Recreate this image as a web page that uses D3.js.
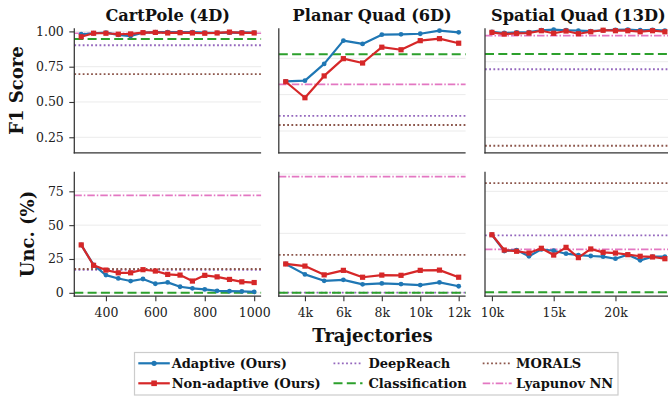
<!DOCTYPE html>
<html><head><meta charset="utf-8">
<script src="https://cdn.jsdelivr.net/npm/d3@7"></script>
<style>
body{margin:0;background:#fff}
svg{display:block}
text{font-family:"DejaVu Serif",serif}
</style>
</head><body><svg id="c" width="668" height="396"></svg>
<script>
// ---------------- DATA ----------------
const panelTitles = ["CartPole (4D)", "Planar Quad (6D)", "Spatial Quad (13D)"];
const seriesNames = ["Adaptive (Ours)", "Non-adaptive (Ours)"];
const baselineNames = ["DeepReach", "Classification", "MORALS", "Lyapunov NN"];

const cartpoleX = [300,350,400,450,500,550,600,650,700,750,800,850,900,950,1000];
const cartpoleF1Adaptive    = [0.980,0.987,0.991,0.976,0.967,0.991,0.995,0.995,0.995,0.995,0.991,0.989,0.991,0.993,0.991];
const cartpoleF1NonAdaptive = [0.962,0.987,0.987,0.980,0.982,0.991,0.993,0.989,0.991,0.989,0.987,0.989,0.995,0.989,0.989];
const cartpoleUncAdaptive    = [35.4,20.6,13.1,10.6,8.7,10.2,6.7,7.7,4.5,3.3,2.5,1.5,1.2,1.0,0.7];
const cartpoleUncNonAdaptive = [35.4,20.3,16.8,14.8,14.8,17.1,16.1,13.6,13.1,8.7,12.9,11.8,9.9,8.1,7.6];
const cartpoleBaselineF1  = [0.902, 0.946, 0.698, 0.987];
const cartpoleBaselineUnc = [17.0, 0.0, 17.6, 72.0];

const planarX = [3000,4000,5000,6000,7000,8000,9000,10000,11000,12000];
const planarF1Adaptive    = [0.673,0.677,0.769,0.897,0.879,0.930,0.932,0.935,0.952,0.943];
const planarF1NonAdaptive = [0.671,0.583,0.703,0.798,0.774,0.861,0.847,0.897,0.908,0.883];
const planarUncAdaptive    = [12.1,7.7,5.0,5.4,3.5,3.9,3.6,3.2,4.3,2.7];
const planarUncNonAdaptive = [12.1,11.2,7.5,9.4,6.5,7.4,7.3,9.4,9.5,6.5];
const planarBaselineF1  = [0.483, 0.822, 0.433, 0.657];
const planarBaselineUnc = [0.0, 0.0, 15.9, 48.9];

const spatialX = [10000,11000,12000,13000,14000,15000,16000,17000,18000,19000,20000,21000,22000,23000,24000];
const spatialF1Adaptive    = [0.948,0.940,0.944,0.946,0.958,0.962,0.958,0.955,0.952,0.958,0.960,0.962,0.958,0.960,0.955];
const spatialF1NonAdaptive = [0.944,0.933,0.938,0.940,0.955,0.938,0.953,0.935,0.948,0.958,0.955,0.955,0.948,0.955,0.948];
const spatialUncAdaptive    = [42.9,30.9,31.6,27.0,32.1,31.1,28.9,27.9,27.2,26.7,25.2,28.2,24.0,26.7,26.7];
const spatialUncNonAdaptive = [42.9,31.6,30.7,29.4,32.9,27.9,33.6,26.0,32.4,29.9,29.4,28.2,27.0,26.5,25.2];
const spatialBaselineF1  = [0.700, 0.801, 0.194, 0.922];
const spatialBaselineUnc = [42.4, 0.5, 81.1, 32.1];

const xTickValues = [[400,600,800,1000],[4000,6000,8000,10000,12000],[10000,15000,20000]];
const xTickLabels = [["400","600","800","1000"],["4k","6k","8k","10k","12k"],["10k","15k","20k"]];
const f1GridValues  = [[0.25,0.5,0.75,1.0],[0.4,0.6,0.8],[0.25,0.5,0.75]];
const f1TickLabels  = ["0.25","0.50","0.75","1.00"];
const uncGridValues = [[0,25,50,75],[0,25,50],[0,25,50,75]];
const uncTickLabels = ["0","25","50","75"];
const f1Domains  = [[0.14,1.022],[0.28,0.965],[0.1475,0.971]];
const uncDomains = [[-2.5,89.5],[-1.5,51],[-2.5,89.5]];

// ---------------- STYLE / LAYOUT ----------------
const seriesColors = ["#1f77b4", "#d62728"];
const baseColors = ["#9467bd", "#2ca02c", "#8c564b", "#e377c2"];
const baseDash = ["1.8,2.4", "9,4.3", "1.8,2.4", "7.5,2,1.5,2"];
const baseWidth = [1.8, 2, 1.8, 1.7];
const colLeft = [74.3, 278.8, 485];
const colWidth = 186.8;
const rowTop = [28.3, 171.7];
const rowHeight = 124.5;

const panels = [
  {x: cartpoleX, f1: [cartpoleF1Adaptive, cartpoleF1NonAdaptive], unc: [cartpoleUncAdaptive, cartpoleUncNonAdaptive], bf1: cartpoleBaselineF1, bunc: cartpoleBaselineUnc},
  {x: planarX, f1: [planarF1Adaptive, planarF1NonAdaptive], unc: [planarUncAdaptive, planarUncNonAdaptive], bf1: planarBaselineF1, bunc: planarBaselineUnc},
  {x: spatialX, f1: [spatialF1Adaptive, spatialF1NonAdaptive], unc: [spatialUncAdaptive, spatialUncNonAdaptive], bf1: spatialBaselineF1, bunc: spatialBaselineUnc}
];

const svg = d3.select("#c");
svg.append("rect").attr("width",668).attr("height",396).attr("fill","#fff");

panels.forEach((p, ci) => {
  const ext = d3.extent(p.x);
  const pad = (ext[1]-ext[0])*0.04;
  const x = d3.scaleLinear().domain([ext[0]-pad, ext[1]+pad]).range([colLeft[ci], colLeft[ci]+colWidth]);
  [0,1].forEach(ri => {
    const top = rowTop[ri], bot = top + rowHeight;
    const y = d3.scaleLinear().domain(ri===0 ? f1Domains[ci] : uncDomains[ci]).range([bot, top]);
    const g = svg.append("g");
    const grid = ri===0 ? f1GridValues[ci] : uncGridValues[ci];
    g.selectAll("line.grid").data(grid).join("line")
      .attr("x1", x.range()[0]).attr("x2", x.range()[1])
      .attr("y1", d=>y(d)).attr("y2", d=>y(d))
      .attr("stroke", "#ebebeb").attr("stroke-width", 1);
    const bvals = ri===0 ? p.bf1 : p.bunc;
    bvals.forEach((v, bi) => {
      g.append("line")
        .attr("x1", x.range()[0]).attr("x2", x.range()[1])
        .attr("y1", y(v)).attr("y2", y(v))
        .attr("stroke", baseColors[bi]).attr("stroke-width", baseWidth[bi])
        .attr("stroke-dasharray", baseDash[bi]);
    });
    const vals = ri===0 ? p.f1 : p.unc;
    vals.forEach((arr, si) => {
      const pts = p.x.map((xv, i) => [xv, arr[i]]);
      g.append("path").datum(pts)
        .attr("fill","none").attr("stroke", seriesColors[si]).attr("stroke-width", 2.2)
        .attr("stroke-linejoin","round")
        .attr("d", d3.line().x(d=>x(d[0])).y(d=>y(d[1])));
      if (si===0) {
        g.selectAll(null).data(pts).join("circle")
          .attr("cx", d=>x(d[0])).attr("cy", d=>y(d[1])).attr("r", 2.4)
          .attr("fill", seriesColors[si]);
      } else {
        g.selectAll(null).data(pts).join("rect")
          .attr("x", d=>x(d[0])-2.6).attr("y", d=>y(d[1])-2.6)
          .attr("width", 5.2).attr("height", 5.2)
          .attr("fill", seriesColors[si]);
      }
    });
    if (ci===0) {
      const labels = ri===0 ? f1TickLabels : uncTickLabels;
      const ax = d3.axisLeft(y).tickValues(grid).tickSize(5).tickPadding(5.5)
        .tickSizeOuter(0).tickFormat((d,i)=>labels[i]);
      const ga = svg.append("g").attr("transform", `translate(${x.range()[0]},0)`).call(ax);
      ga.select(".domain").remove();
      ga.selectAll("line").attr("stroke","#333").attr("stroke-width",1.1);
      ga.selectAll("text").attr("font-family","DejaVu Serif").attr("font-size",12.5).attr("fill","#222");
    }
    if (ri===1) {
      const ax = d3.axisBottom(x).tickValues(xTickValues[ci]).tickSize(5).tickPadding(7)
        .tickFormat((d,i)=>xTickLabels[ci][i]);
      const ga = svg.append("g").attr("transform", `translate(0,${bot})`).call(ax);
      ga.select(".domain").remove();
      ga.selectAll("line").attr("stroke","#333").attr("stroke-width",1.1);
      ga.selectAll("text").attr("font-family","DejaVu Serif").attr("font-size",12.5).attr("fill","#222");
    }
    svg.append("line").attr("x1", x.range()[0]).attr("x2", x.range()[0]).attr("y1", top).attr("y2", bot+0.6)
      .attr("stroke","#333").attr("stroke-width",1.25);
    svg.append("line").attr("x1", x.range()[0]-0.6).attr("x2", x.range()[1]).attr("y1", bot).attr("y2", bot)
      .attr("stroke","#333").attr("stroke-width",1.25);
  });
  svg.append("text").attr("x", colLeft[ci]+colWidth/2).attr("y", 20.7)
    .attr("text-anchor","middle").attr("font-family","DejaVu Serif").attr("font-weight","bold").attr("font-size",16.2)
    .attr("fill","#111").text(panelTitles[ci]);
});

svg.append("text").attr("transform","translate(23.3,90.5) rotate(-90)")
  .attr("text-anchor","middle").attr("font-family","DejaVu Serif").attr("font-weight","bold").attr("font-size",18).attr("fill","#111").text("F1 Score");
svg.append("text").attr("transform","translate(33.5,234) rotate(-90)")
  .attr("text-anchor","middle").attr("font-family","DejaVu Serif").attr("font-weight","bold").attr("font-size",18).attr("fill","#111").text("Unc. (%)");
svg.append("text").attr("x",372.5).attr("y",341.7)
  .attr("text-anchor","middle").attr("font-family","DejaVu Serif").attr("font-weight","bold").attr("font-size",18).attr("fill","#111").text("Trajectories");

const lg = svg.append("g");
lg.append("rect").attr("x",134.5).attr("y",352.5).attr("width",483.5).attr("height",42.5)
  .attr("fill","#fff").attr("stroke","#cccccc").attr("stroke-width",1.2);
const legendItems = [
  {name: seriesNames[0], kind:"s", i:0, col:0, row:0},
  {name: seriesNames[1], kind:"s", i:1, col:0, row:1},
  {name: baselineNames[0], kind:"b", i:0, col:1, row:0},
  {name: baselineNames[1], kind:"b", i:1, col:1, row:1},
  {name: baselineNames[2], kind:"b", i:2, col:2, row:0},
  {name: baselineNames[3], kind:"b", i:3, col:2, row:1}
];
const legColX = [138.3, 333.5, 482.7];
const legRowY = [368.3, 388.3];
legendItems.forEach(it => {
  const x0 = legColX[it.col], by = legRowY[it.row], hy = by - 5;
  if (it.kind==="s") {
    lg.append("line").attr("x1",x0).attr("x2",x0+31.5).attr("y1",hy).attr("y2",hy)
      .attr("stroke",seriesColors[it.i]).attr("stroke-width",2.2);
    if (it.i===0) lg.append("circle").attr("cx",x0+15.8).attr("cy",hy).attr("r",2.6).attr("fill",seriesColors[0]);
    else lg.append("rect").attr("x",x0+15.8-2.8).attr("y",hy-2.8).attr("width",5.6).attr("height",5.6).attr("fill",seriesColors[1]);
  } else {
    lg.append("line").attr("x1",x0).attr("x2",x0+29).attr("y1",hy).attr("y2",hy)
      .attr("stroke",baseColors[it.i]).attr("stroke-width",baseWidth[it.i]).attr("stroke-dasharray",baseDash[it.i]);
  }
  lg.append("text").attr("x", x0 + (it.col===1 ? 35 : 33.4)).attr("y", by)
    .attr("font-family","DejaVu Serif").attr("font-weight","bold").attr("font-size",13).attr("fill","#111").text(it.name);
});
</script>
</body></html>
